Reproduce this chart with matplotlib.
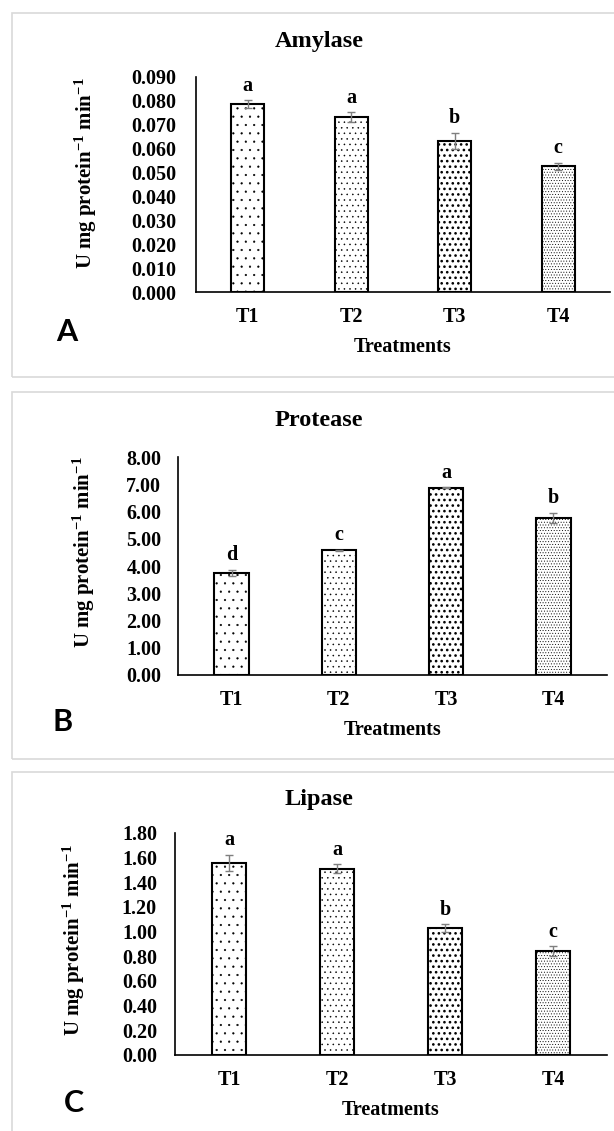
import numpy as np
import matplotlib
matplotlib.use('Agg')
import matplotlib.pyplot as plt
from matplotlib.patches import Rectangle

treatments = ['T1', 'T2', 'T3', 'T4']

amylase = [0.0787, 0.0733, 0.0632, 0.0527]
amylase_err = [0.0015, 0.0020, 0.0035, 0.0015]
amylase_sig = ['a', 'a', 'b', 'c']
amylase_ticks = [0.000, 0.010, 0.020, 0.030, 0.040, 0.050, 0.060, 0.070, 0.080, 0.090]

protease = [3.75, 4.58, 6.87, 5.76]
protease_err = [0.12, 0.02, 0.02, 0.20]
protease_sig = ['d', 'c', 'a', 'b']
protease_ticks = [0.00, 1.00, 2.00, 3.00, 4.00, 5.00, 6.00, 7.00, 8.00]

lipase = [1.557, 1.51, 1.03, 0.84]
lipase_err = [0.068, 0.038, 0.030, 0.040]
lipase_sig = ['a', 'a', 'b', 'c']
lipase_ticks = [0.00, 0.20, 0.40, 0.60, 0.80, 1.00, 1.20, 1.40, 1.60, 1.80]

# dot patterns per treatment (pattern, dot stroke width)
hatches = ['..', '...', '...', '......']
hatch_lw = [0.35, 0.35, 1.1, 0.35]

plt.rcParams['font.family'] = ['Liberation Serif', 'DejaVu Serif']
plt.rcParams['font.weight'] = 'bold'
plt.rcParams['axes.labelweight'] = 'bold'
plt.rcParams['mathtext.fontset'] = 'custom'
plt.rcParams['mathtext.rm'] = 'Liberation Serif:bold'
plt.rcParams['mathtext.bf'] = 'Liberation Serif:bold'
plt.rcParams['mathtext.it'] = 'Liberation Serif:bold'
plt.rcParams['mathtext.default'] = 'bf'

W, H = 614, 1131
fig = plt.figure(figsize=(W / 100, H / 100), dpi=100)


def panel(box, axpx, title, title_y, letter, letter_xy, vals, errs, sig, ticks, fmt, ylab, ypad):
    # grey frame round the panel
    top, bottom = box
    fig.add_artist(Rectangle((12 / W, 1 - bottom / H), 700 / W, (bottom - top) / H,
                             transform=fig.transFigure, fill=False, ec='#d9d9d9', lw=1.2))
    l, r, t, b = axpx
    ax = fig.add_axes([l / W, 1 - b / H, (r - l) / W, (b - t) / H])
    x = np.arange(len(treatments))
    for i in range(len(vals)):
        with plt.rc_context({'hatch.linewidth': hatch_lw[i]}):
            ax.bar(x[i], vals[i], width=0.32, color='white', edgecolor='black', linewidth=1.5,
                   hatch=hatches[i], yerr=errs[i],
                   error_kw=dict(ecolor='#7f7f7f', elinewidth=1, capsize=3.2, capthick=1))
        ax.annotate(sig[i], (x[i], vals[i] + errs[i]), xytext=(0, 3), textcoords='offset points',
                    ha='center', va='bottom', fontsize=14.5)
    ax.set_xlim(-0.5, 3.5)
    ax.set_ylim(ticks[0], ticks[-1])
    ax.set_xticks(x)
    ax.set_xticklabels(treatments)
    ax.set_yticks(ticks)
    ax.set_yticklabels([fmt % t_ for t_ in ticks])
    ax.tick_params(length=0, labelsize=14.5)
    ax.tick_params(axis='y', pad=ypad)
    ax.tick_params(axis='x', pad=11)
    for s in ['top', 'right']:
        ax.spines[s].set_visible(False)
    for s in ['left', 'bottom']:
        ax.spines[s].set_linewidth(1.2)
    ax.set_xlabel('Treatments', fontsize=14.5, fontweight='bold')
    ax.xaxis.label.set_va('center')
    ax.xaxis.set_label_coords(0.5, -55 / (b - t))
    ax.set_ylabel(r'U mg protein$^{-1}$ min$^{-1}$', fontsize=15, fontweight='bold')
    ax.yaxis.label.set_va('center')
    ax.yaxis.set_label_coords((ylab[0] - l) / (r - l), (b - ylab[1]) / (b - t))
    fig.text(319 / W, 1 - title_y / H, title, ha='center', va='center', fontsize=17.5)
    fig.text(letter_xy[0] / W, 1 - letter_xy[1] / H, letter, ha='center', va='center',
             family='Lato', weight='bold', fontsize=22)
    return ax


panel((13, 377), (196, 610, 77, 292), 'Amylase', 42, 'A', (67, 332),
      amylase, amylase_err, amylase_sig, amylase_ticks, '%.3f', (86, 173), 14)
panel((392, 759), (178, 607, 457, 675), 'Protease', 420, 'B', (63, 722),
      protease, protease_err, protease_sig, protease_ticks, '%.2f', (84, 552), 12)
panel((772, 1145), (175, 607, 833, 1055), 'Lipase', 800, 'C', (74, 1103),
      lipase, lipase_err, lipase_sig, lipase_ticks, '%.2f', (74, 940), 13)

fig.savefig('out.png', dpi=100)
